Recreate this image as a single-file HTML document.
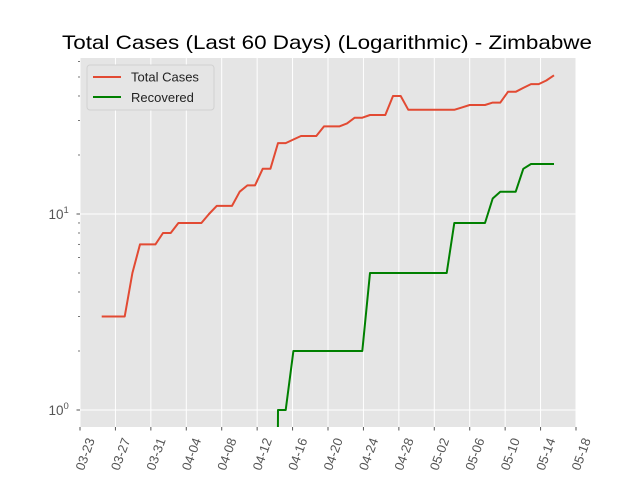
<!DOCTYPE html>
<html><head><meta charset="utf-8"><style>
html,body{margin:0;padding:0;background:#fff;overflow:hidden;width:640px;height:480px;}
svg{display:block;font-family:"Liberation Sans","DejaVu Sans",sans-serif;}
</style></head><body>
<svg id="chart" width="640" height="480" viewBox="0 0 640 480">
<text x="327" y="49" text-anchor="middle" font-size="19.5" fill="#000" textLength="530" lengthAdjust="spacingAndGlyphs">Total Cases (Last 60 Days) (Logarithmic) - Zimbabwe</text>
<rect x="80" y="58" width="496" height="369" fill="#e5e5e5"/>
<g id="grid"></g><g id="series"></g><g id="axes"></g>
<g>
<rect x="87" y="65" width="127" height="45" rx="3" fill="#e5e5e5" stroke="#cccccc" stroke-opacity="0.8"/>
<line x1="93" y1="77" x2="121" y2="77" stroke="#E24A33" stroke-width="2"/>
<text x="131" y="81.5" font-size="13" fill="#222">Total Cases</text>
<line x1="93" y1="97" x2="121" y2="97" stroke="#008000" stroke-width="2"/>
<text x="131" y="102" font-size="13" fill="#222">Recovered</text>
</g>
</svg>
<script>
const totalCases=[3,3,3,3,5,7,7,7,8,8,9,9,9,9,10,11,11,11,13,14,14,17,17,23,23,24,25,25,25,28,28,28,29,31,31,32,32,32,40,40,34,34,34,34,34,34,34,35,36,36,36,37,37,42,42,44,46,46,48,51];
const recovered=[0,0,0,0,0,0,0,0,0,0,0,0,0,0,0,0,0,0,0,0,0,0,0,1,1,2,2,2,2,2,2,2,2,2,2,5,5,5,5,5,5,5,5,5,5,5,9,9,9,9,9,12,13,13,13,17,18,18,18,18];
const xTickLabels=["03-23","03-27","03-31","04-04","04-08","04-12","04-16","04-20","04-24","04-28","05-02","05-06","05-10","05-14","05-18"];
const yMajorTicks=[1,10];
const yMinorTicks=[2,3,4,5,6,7,8,9,20,30,40,50,60];
const NS="http://www.w3.org/2000/svg";
const L=80,R=576,T=58,B=427;
const yMin=0.819,yMax=62.5;
function xScale(i){return 101.7+i*7.666;}
function yScale(v){const lv=Math.log10(Math.max(v,1e-6));const lo=Math.log10(yMin),hi=Math.log10(yMax);return B-(lv-lo)/(hi-lo)*(B-T);}
function mk(tag,attrs,parent){const e=document.createElementNS(NS,tag);for(const k in attrs)e.setAttribute(k,attrs[k]);parent.appendChild(e);return e;}
const grid=document.getElementById('grid'),axes=document.getElementById('axes'),series=document.getElementById('series');
xTickLabels.forEach((lab,k)=>{
 const x=L+k*(R-L)/(xTickLabels.length-1);
 const g=mk('line',{x1:x,y1:T,x2:x,y2:B,stroke:'#fff','stroke-width':1},grid);
 
 
 const t=mk('line',{x1:x,y1:B,x2:x,y2:B+3.5,stroke:'#555','stroke-width':1},axes);
 
 
 const tx=mk('text',{x:0,y:0,'font-size':13,fill:'#555','text-anchor':'end',transform:`translate(${x+15},${B+13}) rotate(-70)`},axes);
 tx.textContent=lab;
 
 
});
yMajorTicks.forEach(v=>{
 const y=yScale(v);
 const g=mk('line',{x1:L,y1:y,x2:R,y2:y,stroke:'#fff','stroke-width':1},grid);
 
 
 const t=mk('line',{x1:L-3.5,y1:y,x2:L,y2:y,stroke:'#555','stroke-width':1},axes);
 
 
 const tx=mk('text',{x:63.5,y:y+5,'font-size':13.5,fill:'#555','text-anchor':'end'},axes);
 tx.textContent='10';
 
 
 const sp=mk('text',{x:63.5,y:y-1,'font-size':9.5,fill:'#555','text-anchor':'start'},axes);
 sp.textContent=String(Math.round(Math.log10(v)));
 
 
});
yMinorTicks.forEach(v=>{
 const y=yScale(v);if(y<T||y>B)return;
 const t=mk('line',{x1:L-2,y1:y,x2:L,y2:y,stroke:'#555','stroke-width':0.8},axes);
 
 
});
const clip=mk('clipPath',{id:'pc'},series);
mk('rect',{x:L,y:T,width:R-L,height:B-T},clip);
function draw(arr,color,name){
 const pts=arr.map((v,i)=>`${xScale(i).toFixed(1)},${(v>0?yScale(v):2000).toFixed(1)}`).join(' ');
 const p=mk('polyline',{points:pts,fill:'none',stroke:color,'stroke-width':2,'stroke-linejoin':'round','clip-path':'url(#pc)'},series);
 
 
}
draw(totalCases,'#E24A33','total-cases-line');
draw(recovered,'#008000','recovered-line');
</script>
</body></html>
